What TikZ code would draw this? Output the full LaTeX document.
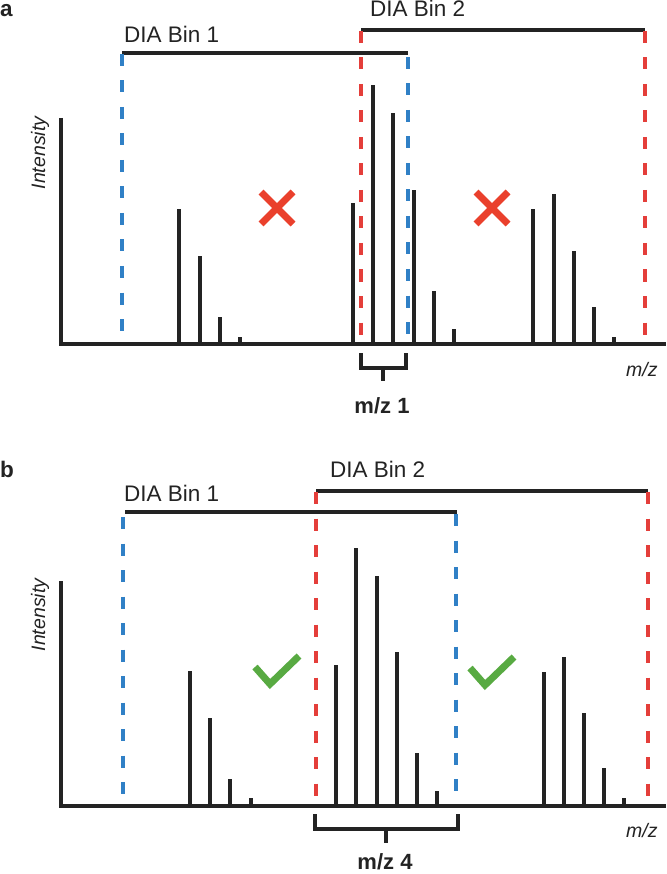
\documentclass[tikz,border=0pt]{standalone}
\usepackage{fontspec}
\setmainfont{Liberation Sans}
\usetikzlibrary{positioning}
\definecolor{ink}{RGB}{35,35,35}
\definecolor{binblue}{RGB}{48,128,198}
\definecolor{binred}{RGB}{228,62,58}
\definecolor{nored}{RGB}{234,64,44}
\definecolor{okgreen}{RGB}{88,170,66}
\tikzstyle{axis}=[line width=4pt, ink, line join=miter]
\tikzstyle{peak}=[line width=4pt, ink]
\tikzstyle{binline}=[line width=3.3pt, ink]
\tikzstyle{brace}=[line width=3.3pt, ink, line join=miter]
\tikzstyle{bluebin}=[line width=3.5pt, binblue, dash pattern=on 12pt off 14.5pt]
\tikzstyle{redbin}=[line width=3.5pt, binred, dash pattern=on 12pt off 14.5pt]
\tikzstyle{nomark}=[line width=7pt, nored]
\tikzstyle{okmark}=[line width=7pt, okgreen, line join=miter]
\tikzstyle{panellabel}=[inner sep=0pt, anchor=base west, text=ink, font=\bfseries\fontsize{22.5}{27}\selectfont]
\tikzstyle{binlabel}=[inner sep=0pt, anchor=base west, text=ink, font=\fontsize{22.5}{27}\selectfont]
\tikzstyle{axislabel}=[inner sep=0pt, text=ink, font=\itshape\fontsize{19.5}{23}\selectfont]
\tikzstyle{mzlabel}=[inner sep=0pt, anchor=base, text=ink, font=\bfseries\fontsize{22}{26}\selectfont]

\begin{document}
\begin{tikzpicture}[x=1pt, y=-1pt]
\useasboundingbox (0,0) rectangle (666,874);
% ---- panel a ----
\node (labA) [panellabel] at (0,17) {a};
\node (binA1) [binlabel] at (124,43) {DIA Bin 1};
\node (binA2) [binlabel] at (370,17) {DIA Bin 2};
\node (intA) [axislabel, rotate=90] at (40,153) {Intensity};
\node (mzaxA) [axislabel, anchor=base west] at (626,376) {m/z};
\node (mzA) [mzlabel] at (382,413) {m/z 1};
\draw[axis] (61,118) -- (61,344) -- (666,344);
\draw[peak] (179,344) -- (179,209);
\draw[peak] (200,344) -- (200,256);
\draw[peak] (220,344) -- (220,317);
\draw[peak] (240,344) -- (240,337);
\draw[peak] (353,344) -- (353,203);
\draw[peak] (373,344) -- (373,85);
\draw[peak] (393,344) -- (393,113);
\draw[peak] (414,344) -- (414,190);
\draw[peak] (434,344) -- (434,291);
\draw[peak] (454,344) -- (454,329);
\draw[peak] (533,344) -- (533,209);
\draw[peak] (554,344) -- (554,194);
\draw[peak] (574,344) -- (574,251);
\draw[peak] (594,344) -- (594,307);
\draw[peak] (614,344) -- (614,337);
\draw[binline] (122,53) -- (408,53);
\draw[binline] (361,30) -- (645,30);
\draw[bluebin] (122,54) -- (122,334);
\draw[bluebin] (408,57) -- (408,337);
\draw[redbin] (361,31) -- (361,336);
\draw[redbin] (645,31) -- (645,336);
\draw[nomark] (261,192) -- (293,224) (261,224) -- (293,192);
\draw[nomark] (476,192) -- (508,224) (476,224) -- (508,192);
\draw[brace] (361,353) -- (361,368) -- (406,368) -- (406,353);
\draw[brace] (383,368) -- (383,381);
% ---- panel b ----
\node (labB) [panellabel] at (0,477) {b};
\node (binB1) [binlabel] at (124,501) {DIA Bin 1};
\node (binB2) [binlabel] at (330,477) {DIA Bin 2};
\node (intB) [axislabel, rotate=90] at (40,615) {Intensity};
\node (mzaxB) [axislabel, anchor=base west] at (626,837) {m/z};
\node (mzB) [mzlabel] at (385,869) {m/z 4};
\draw[axis] (61,581) -- (61,806) -- (666,806);
\draw[peak] (190,806) -- (190,671);
\draw[peak] (210,806) -- (210,718);
\draw[peak] (230,806) -- (230,779);
\draw[peak] (251,806) -- (251,798);
\draw[peak] (336,806) -- (336,665);
\draw[peak] (356,806) -- (356,548);
\draw[peak] (377,806) -- (377,576);
\draw[peak] (397,806) -- (397,652);
\draw[peak] (417,806) -- (417,753);
\draw[peak] (437,806) -- (437,791);
\draw[peak] (544,806) -- (544,672);
\draw[peak] (564,806) -- (564,657);
\draw[peak] (584,806) -- (584,713);
\draw[peak] (604,806) -- (604,768);
\draw[peak] (624,806) -- (624,798);
\draw[binline] (125,512) -- (457,512);
\draw[binline] (316,491) -- (648,491);
\draw[bluebin] (123,517) -- (123,796);
\draw[bluebin] (456,514) -- (456,794);
\draw[redbin] (316,492) -- (316,798);
\draw[redbin] (648,492) -- (648,799);
\draw[okmark] (255,667) -- (270,684) -- (299,656);
\draw[okmark] (470,668) -- (485,685) -- (514,657);
\draw[brace] (315,814) -- (315,829) -- (458,829) -- (458,814);
\draw[brace] (386,829) -- (386,843);
\end{tikzpicture}
\end{document}
